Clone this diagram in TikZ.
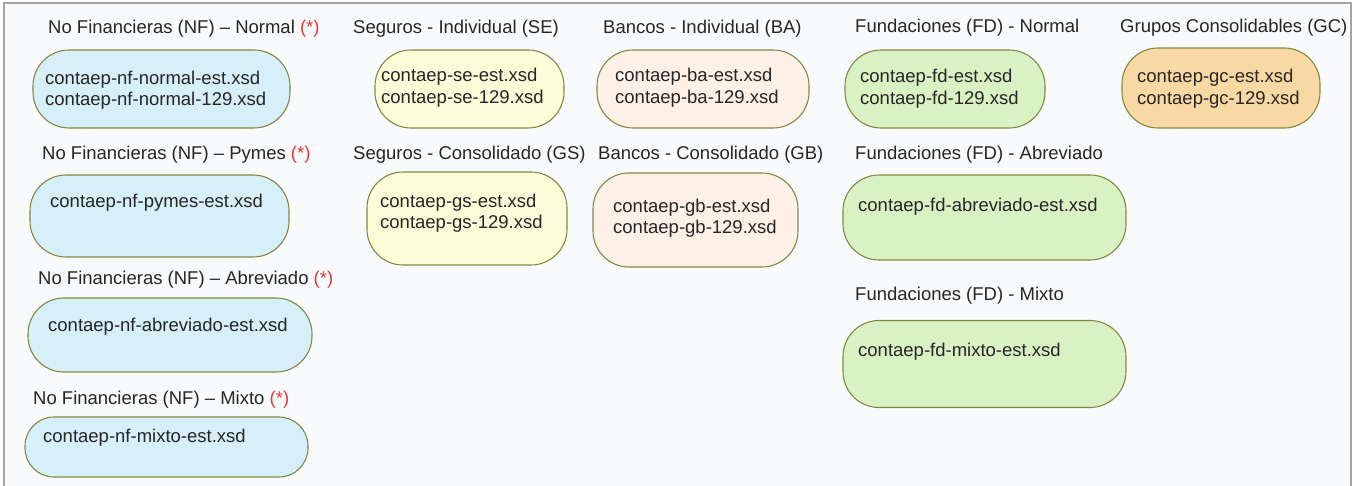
\documentclass[tikz,border=0pt]{standalone}
\usepackage{fontspec}
\setmainfont{Liberation Sans}

\definecolor{nfblue}{HTML}{D7EFF8}
\definecolor{seyellow}{HTML}{FBFCD8}
\definecolor{bapeach}{HTML}{FDF0E6}
\definecolor{fdgreen}{HTML}{DAF1C4}
\definecolor{gcorange}{HTML}{F9D9A3}
\definecolor{boxline}{HTML}{828A42}
\definecolor{txtgray}{HTML}{262626}
\definecolor{framegray}{HTML}{A3A3A3}
\definecolor{paper}{HTML}{F9FAFB}
\definecolor{astred}{HTML}{E8393A}

\newcommand{\redast}{\textcolor{astred}{(*)}}

\begin{document}
\begin{tikzpicture}[x=1pt, y=-1pt,
  every node/.style={inner sep=0pt, text=txtgray,
    font=\fontsize{18.5}{21.5}\selectfont},
  title/.style={anchor=west},
  xsdbox/.style={draw=boxline, line width=1.1pt, rounded corners=36pt},
  xsdtext/.style={anchor=west, align=left}]

  \useasboundingbox (0,0) rectangle (1360,486);
  \clip (0,0) rectangle (1360,486);
  \fill[white] (0,0) rectangle (1360,486);
  \fill[paper] (4,3) rectangle (1351,490);
  \draw[framegray, line width=1.5pt] (4,490) -- (4,3) -- (1351,3) -- (1351,490);

  % titles
  \node[title] (nfnlab) at (48,29)   {No Financieras (NF) -- Normal \redast};
  \node[title] (selab)  at (353,29)  {Seguros - Individual (SE)};
  \node[title] (balab)  at (603,29)  {Bancos - Individual (BA)};
  \node[title] (fdnlab) at (855,28)  {Fundaciones (FD) - Normal};
  \node[title] (gclab)  at (1120,28) {Grupos Consolidables (GC)};
  \node[title] (nfplab) at (42,155)  {No Financieras (NF) -- Pymes \redast};
  \node[title] (gslab)  at (353,155) {Seguros - Consolidado (GS)};
  \node[title] (gblab)  at (598,155) {Bancos - Consolidado (GB)};
  \node[title] (fdalab) at (855,155) {Fundaciones (FD) - Abreviado};
  \node[title] (nfalab) at (38,280)  {No Financieras (NF) -- Abreviado \redast};
  \node[title] (fdmlab) at (855,296) {Fundaciones (FD) - Mixto};
  \node[title] (nfmlab) at (33,400)  {No Financieras (NF) -- Mixto \redast};

  % boxes
  \node[xsdbox, fill=nfblue,   minimum width=257, minimum height=78] (nfnbox) at (161.5,89) {};
  \node[xsdbox, fill=seyellow, minimum width=189, minimum height=78] (sebox)  at (469.5,89) {};
  \node[xsdbox, fill=bapeach,  minimum width=212, minimum height=78] (babox)  at (703,89)   {};
  \node[xsdbox, fill=fdgreen,  minimum width=200, minimum height=78] (fdnbox) at (945,89)   {};
  \node[xsdbox, fill=gcorange, minimum width=198, minimum height=80] (gcbox)  at (1221,88)  {};
  \node[xsdbox, fill=nfblue,   minimum width=259, minimum height=82] (nfpbox) at (159.5,216) {};
  \node[xsdbox, fill=seyellow, minimum width=200, minimum height=93] (gsbox)  at (467,218.5) {};
  \node[xsdbox, fill=bapeach,  minimum width=205, minimum height=94] (gbbox)  at (695.5,220) {};
  \node[xsdbox, fill=fdgreen,  minimum width=283, minimum height=85] (fdabox) at (984.5,217.5) {};
  \node[xsdbox, fill=nfblue,   minimum width=284, minimum height=74] (nfabox) at (170,335)  {};
  \node[xsdbox, fill=fdgreen,  minimum width=283, minimum height=87] (fdmbox) at (984.5,364) {};
  \node[xsdbox, fill=nfblue,   minimum width=283, minimum height=60,
        rounded corners=29pt] (nfmbox) at (166.5,447) {};

  % file names
  \node[xsdtext] (nfnxsd) at (45,90)    {contaep-nf-normal-est.xsd\\contaep-nf-normal-129.xsd};
  \node[xsdtext] (sexsd)  at (381,87.5) {contaep-se-est.xsd\\contaep-se-129.xsd};
  \node[xsdtext] (baxsd)  at (615,87.5) {contaep-ba-est.xsd\\contaep-ba-129.xsd};
  \node[xsdtext] (fdnxsd) at (860,88.5) {contaep-fd-est.xsd\\contaep-fd-129.xsd};
  \node[xsdtext] (gcxsd)  at (1137,88.5) {contaep-gc-est.xsd\\contaep-gc-129.xsd};
  \node[xsdtext] (nfpxsd) at (50,203)   {contaep-nf-pymes-est.xsd};
  \node[xsdtext] (gsxsd)  at (380,213)  {contaep-gs-est.xsd\\contaep-gs-129.xsd};
  \node[xsdtext] (gbxsd)  at (613,218)  {contaep-gb-est.xsd\\contaep-gb-129.xsd};
  \node[xsdtext] (fdaxsd) at (858,207)  {contaep-fd-abreviado-est.xsd};
  \node[xsdtext] (nfaxsd) at (48,327)   {contaep-nf-abreviado-est.xsd};
  \node[xsdtext] (fdmxsd) at (858,352)  {contaep-fd-mixto-est.xsd};
  \node[xsdtext] (nfmxsd) at (43,438)   {contaep-nf-mixto-est.xsd};
\end{tikzpicture}
\end{document}
